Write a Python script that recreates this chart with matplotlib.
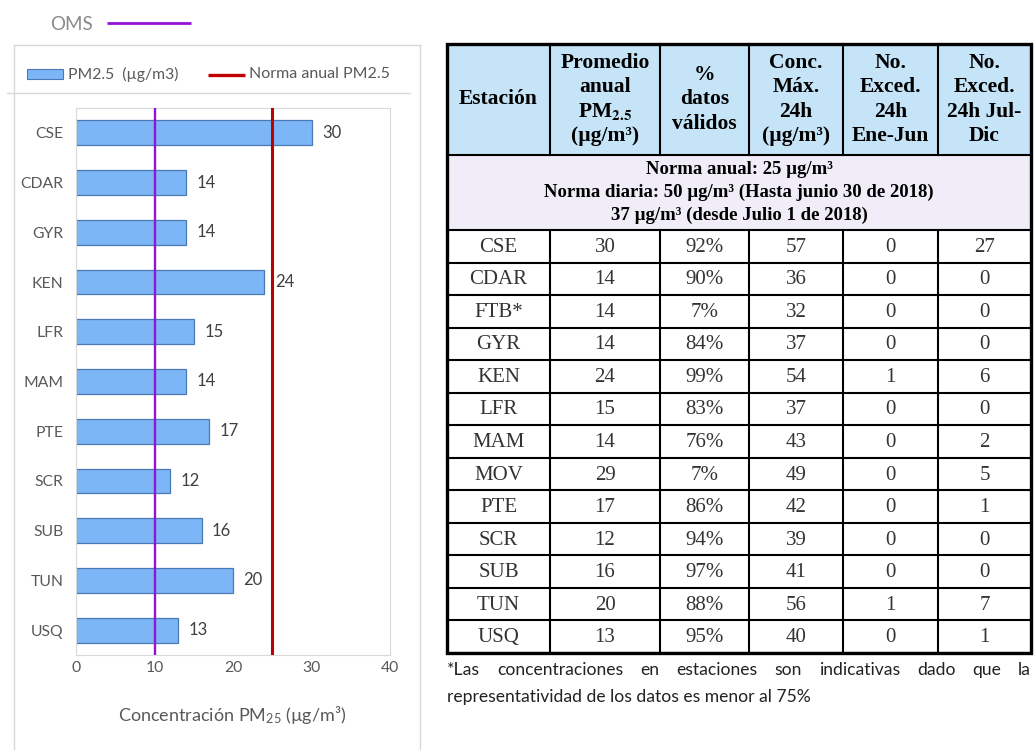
import matplotlib
matplotlib.use("Agg")
import matplotlib.pyplot as plt
from matplotlib.patches import Rectangle

plt.rcParams["font.family"] = ["Lato", "DejaVu Sans"]
plt.rcParams["mathtext.fontset"] = "custom"
plt.rcParams["mathtext.rm"] = "Lato"
plt.rcParams["mathtext.it"] = "Lato:italic"
plt.rcParams["mathtext.bf"] = "Lato:bold"

# ---- bar chart data ----
stations = ["CSE", "CDAR", "GYR", "KEN", "LFR", "MAM", "PTE", "SCR", "SUB", "TUN", "USQ"]
pm25 = [30, 14, 14, 24, 15, 14, 17, 12, 16, 20, 13]
norma_anual = 25
oms = 10
x_ticks = [0, 10, 20, 30, 40]

# ---- table data ----
tab_station = ["CSE", "CDAR", "FTB*", "GYR", "KEN", "LFR", "MAM", "MOV", "PTE", "SCR", "SUB", "TUN", "USQ"]
tab_promedio = [30, 14, 14, 14, 24, 15, 14, 29, 17, 12, 16, 20, 13]
tab_validos = [92, 90, 7, 84, 99, 83, 76, 7, 86, 94, 97, 88, 95]
tab_conc_max = [57, 36, 32, 37, 54, 37, 43, 49, 42, 39, 41, 56, 40]
tab_exc_ene_jun = [0, 0, 0, 0, 1, 0, 0, 0, 0, 0, 0, 1, 0]
tab_exc_jul_dic = [27, 0, 0, 0, 6, 0, 2, 5, 1, 0, 0, 7, 1]

headers = [
    ["Estación"],
    ["Promedio", "anual", r"PM$_{\mathbf{2.5}}$", "(µg/m³)"],
    ["%", "datos", "válidos"],
    ["Conc.", "Máx.", "24h", "(µg/m³)"],
    ["No.", "Exced.", "24h", "Ene-Jun"],
    ["No.", "Exced.", "24h Jul-", "Dic"],
]
norma_lines = [
    "Norma anual: 25 µg/m³",
    "Norma diaria: 50 µg/m³ (Hasta junio 30 de 2018)",
    "37 µg/m³ (desde Julio 1 de 2018)",
]
footnote_1 = "*Las concentraciones en estaciones son indicativas dado que la"
footnote_2 = "representatividad de los datos es menor al 75%"

W, H = 1034, 750
fig = plt.figure(figsize=(W / 100, H / 100), dpi=100)
fig.patch.set_facecolor("white")

# full-figure pixel canvas for frames, legend and table
bg = fig.add_axes([0, 0, 1, 1], zorder=0)
bg.set_xlim(0, W)
bg.set_ylim(H, 0)
bg.axis("off")

GRAY_TXT = "#595959"
PURPLE = "#9412d6"
RED = "#c00000"
BAR_FACE = "#7db6f6"
BAR_EDGE = "#4a7ab5"

# chart frame and legend band
frame_c = "#d9d9d9"
bg.plot([14, 420], [45, 45], color=frame_c, lw=1.0)
bg.plot([14, 14], [45, H], color=frame_c, lw=1.0)
bg.plot([420, 420], [45, H], color=frame_c, lw=1.0)
bg.plot([7, 410], [93, 93], color=frame_c, lw=1.0)

bg.add_patch(Rectangle((27, 69), 36, 9.5, facecolor=BAR_FACE, edgecolor=BAR_EDGE, lw=0.8))
bg.text(68, 74, "PM2.5  (µg/m3)", fontsize=11.3, color=GRAY_TXT, va="center", ha="left")
bg.plot([208, 245], [75, 75], color=RED, lw=2.4, solid_capstyle="butt")
bg.text(249, 74, "Norma anual PM2.5", fontsize=11.5, color=GRAY_TXT, va="center", ha="left")

bg.text(50, 25, "OMS", fontsize=13.5, color="#8a8a8a", va="center", ha="left")
bg.plot([107, 191], [23, 23], color=PURPLE, lw=2.0, solid_capstyle="butt")

bg.text(232, 715, "Concentración PM$_{\\mathrm{25}}$ (µg/m³)", fontsize=13,
        color=GRAY_TXT, ha="center", va="center")

# ---- bar chart ----
ax = fig.add_axes([76 / W, 1 - 655 / H, (390 - 76) / W, (655 - 108) / H], zorder=2)
ax.set_facecolor("none")
ypos = list(range(len(stations)))
ax.barh(ypos, pm25, height=0.5, color=BAR_FACE, edgecolor=BAR_EDGE, linewidth=0.9, zorder=2)
for y, v in zip(ypos, pm25):
    ax.annotate(f"{v}", (v, y), xytext=(7.5, 0), textcoords="offset points",
                va="center", ha="left", fontsize=12, color="#404040", zorder=4)
ax.axvline(oms, color=PURPLE, lw=1.7, zorder=3)
ax.axvline(norma_anual, color=RED, lw=2.2, zorder=3)
ax.set_xlim(0, 40)
ax.set_ylim(len(stations) - 0.5, -0.5)
ax.set_xticks(x_ticks)
ax.set_yticks(ypos)
ax.set_yticklabels(stations)
ax.tick_params(axis="both", length=0, labelsize=11.3, labelcolor=GRAY_TXT)
ax.tick_params(axis="y", pad=9)
ax.tick_params(axis="x", pad=4)
for s in ax.spines.values():
    s.set_color(frame_c)
    s.set_linewidth(0.8)

# ---- table ----
col_x = [447, 550, 660, 749, 843, 938, 1031]
y_top, y_head_bot, y_norm_bot, y_bot = 44, 155, 230, 653
n_rows = len(tab_station)
row_h = (y_bot - y_norm_bot) / n_rows
serif = ["Liberation Serif", "DejaVu Serif"]

bg.add_patch(Rectangle((col_x[0], y_top), col_x[-1] - col_x[0], y_head_bot - y_top,
                       facecolor="#c6e4f7", edgecolor="none"))
bg.add_patch(Rectangle((col_x[0], y_head_bot), col_x[-1] - col_x[0], y_norm_bot - y_head_bot,
                       facecolor="#f0edf8", edgecolor="none"))

lw_in, lw_out = 1.5, 2.4
for x in col_x[1:-1]:
    bg.plot([x, x], [y_top, y_head_bot], color="black", lw=lw_in)
    bg.plot([x, x], [y_norm_bot, y_bot], color="black", lw=lw_in)
for i in range(n_rows + 1):
    y = y_norm_bot + i * row_h
    bg.plot([col_x[0], col_x[-1]], [y, y], color="black", lw=lw_in)
bg.plot([col_x[0], col_x[-1]], [y_head_bot, y_head_bot], color="black", lw=lw_in)
bg.add_patch(Rectangle((col_x[0], y_top), col_x[-1] - col_x[0], y_bot - y_top,
                       facecolor="none", edgecolor="black", lw=lw_out))

# header text
head_mid = (y_top + y_head_bot) / 2
line_gap = 24.5
for c, lines in enumerate(headers):
    cx = (col_x[c] + col_x[c + 1]) / 2
    n = len(lines)
    for k, ln in enumerate(lines):
        y = head_mid + (k - (n - 1) / 2) * line_gap
        bg.text(cx, y, ln, fontsize=15.5, fontweight="bold", family=serif,
                math_fontfamily="stix", ha="center", va="center", color="black")

# norma row
norm_mid = (y_head_bot + y_norm_bot) / 2
cx_tab = (col_x[0] + col_x[-1]) / 2
for k, ln in enumerate(norma_lines):
    y = norm_mid + (k - 1) * 22.5
    bg.text(cx_tab, y, ln, fontsize=13.5, fontweight="bold", family=serif,
            ha="center", va="center", color="black")

# body rows
body_c = "#333333"
for i in range(n_rows):
    y = y_norm_bot + (i + 0.5) * row_h
    cells = [tab_station[i], f"{tab_promedio[i]}", f"{tab_validos[i]}%",
             f"{tab_conc_max[i]}", f"{tab_exc_ene_jun[i]}", f"{tab_exc_jul_dic[i]}"]
    for c, val in enumerate(cells):
        cx = (col_x[c] + col_x[c + 1]) / 2
        bg.text(cx, y + 1, val, fontsize=15, family=serif, ha="center", va="center", color=body_c)

# footnote, first line justified across the table width
fn_kw = dict(fontsize=12.6, color="#222222", va="center", ha="left")
words = footnote_1.split()
wtexts = [bg.text(0, 670, w, **fn_kw) for w in words]
bg.text(col_x[0], 697, footnote_2, **fn_kw)
fig.canvas.draw()
rend = fig.canvas.get_renderer()
widths = [t.get_window_extent(rend).width for t in wtexts]
gap = (col_x[-1] - col_x[0] - sum(widths)) / (len(words) - 1)
x = col_x[0]
for t, w in zip(wtexts, widths):
    t.set_x(x)
    x += w + gap

fig.savefig("out.png", dpi=100)
